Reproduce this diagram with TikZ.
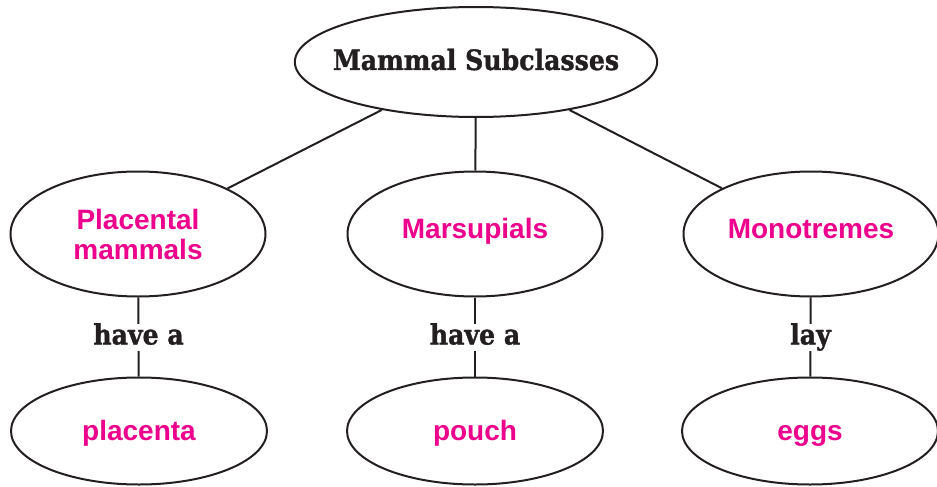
\documentclass[tikz,border=0pt]{standalone}
\usepackage{fontspec}
\newfontfamily\slabfont[FakeStretch=0.9,BoldFeatures={FakeBold=1.2}]{DejaVu Serif}
\newfontfamily\groteskfont{Liberation Sans}
\definecolor{InkBlack}{RGB}{35,31,32}
\definecolor{HotPink}{RGB}{236,0,140}
\usetikzlibrary{shapes.geometric}

\begin{document}
\begin{tikzpicture}[x=1pt,y=-1pt,
        oval/.style={ellipse,draw=InkBlack,line width=2pt,fill=white,inner sep=0pt},
        topic/.style={oval,minimum width=360pt,minimum height=110pt,inner xsep=-15pt,
                      text height=21pt,text depth=5pt,
                      font=\slabfont\bfseries\fontsize{28}{30}\selectfont,text=InkBlack},
        group/.style={oval,minimum width=255pt,minimum height=125pt,align=center,
                      font=\groteskfont\bfseries\fontsize{28}{30}\selectfont,text=HotPink},
        single/.style={text height=20pt,text depth=11pt},
        trait/.style={oval,minimum width=256pt,minimum height=107pt,
                      text height=20pt,text depth=2pt,
                      font=\groteskfont\bfseries\fontsize{28}{30}\selectfont,text=HotPink},
        link/.style={line width=2pt,draw=InkBlack},
        verb/.style={fill=white,inner sep=2pt,text=InkBlack,
                     text height=19pt,text depth=4pt,
                     font=\slabfont\bfseries\fontsize{28}{30}\selectfont}]
        \useasboundingbox (0,0) rectangle (937,487);

        \node[topic] (top) at (476,62) {Mammal Subclasses};

        % subclasses
        \node[group] (plac) at (138,234) {Placental\\mammals};
        \node[group,single] (mars) at (475,234) {Marsupials};
        \node[group,single] (mono) at (811,234) {Monotremes};

        % features
        \node[trait] (placenta) at (139,431) {placenta};
        \node[trait] (pouch)    at (475,431) {pouch};
        \node[trait] (eggs)     at (810,431) {eggs};

        \foreach \g in {plac,mars,mono} \draw[link] (top)--(\g);
        \draw[link] (plac)--(placenta) node[verb,midway] {have a};
        \draw[link] (mars)--(pouch) node[verb,midway] {have a};
        \draw[link] (mono)--(eggs) node[verb,midway] {lay};
\end{tikzpicture}
\end{document}
